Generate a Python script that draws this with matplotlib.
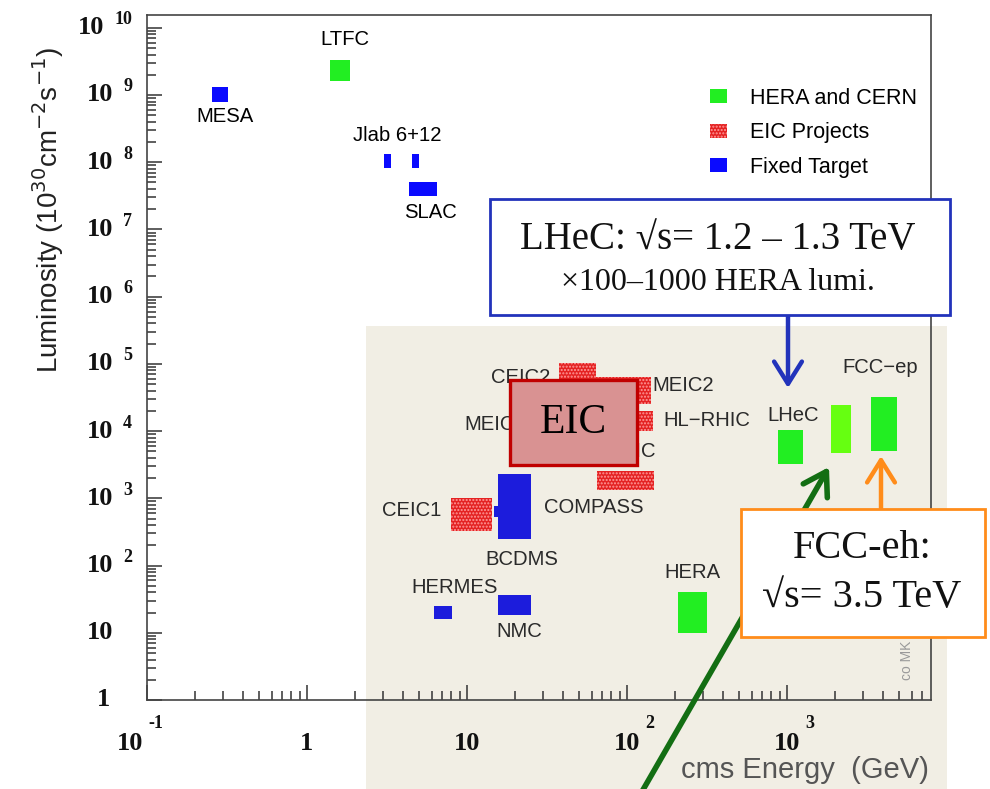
import matplotlib
matplotlib.use('Agg')
import matplotlib.pyplot as plt
from matplotlib.patches import Rectangle, Patch
from matplotlib.ticker import LogLocator, NullFormatter, FixedLocator
import matplotlib.transforms as mtrans

# ---------------- data ----------------
# HERA and CERN (green)
green_names = ['LTFC', 'HERA', 'LHeC', 'FCC-eh', 'FCC-ep']
green_E_lo = [1.39, 208, 879, 1884, 3350]
green_E_hi = [1.86, 316, 1259, 2512, 4870]
green_L_lo = [1.63e9, 9.9, 3.25e3, 4.74e3, 5.07e3]
green_L_hi = [3.34e9, 40.5, 1.04e4, 2.45e4, 3.23e4]
green_cols = ['#22ee22', '#22ee22', '#22ee22', '#66ff11', '#22ee22']

# EIC projects (red, dotted)
red_names = ['CEIC2', 'MEIC2', 'HL-RHIC', 'eRHIC', 'CEIC1']
red_E_lo = [37.6, 64.0, 80.0, 64.9, 7.94]
red_E_hi = [64.0, 141, 145, 147.5, 14.3]
red_L_lo = [5.0e4, 2.54e4, 1.0e4, 1.33e3, 327]
red_L_hi = [1.04e5, 6.4e4, 2.0e4, 2.56e3, 1.01e3]

# Fixed target (blue)
blue_names = ['MESA', 'Jlab 6', 'Jlab 12', 'SLAC', 'E665', 'BCDMS', 'HERMES', 'NMC']
blue_E_lo = [0.255, 3.03, 4.50, 4.34, 14.8, 15.6, 6.22, 15.6]
blue_E_hi = [0.32, 3.37, 5.01, 6.49, 15.6, 25.1, 8.06, 25.1]
blue_L_lo = [7.9e8, 8.25e7, 8.25e7, 3.16e7, 528, 249, 16.0, 18.4]
blue_L_hi = [1.3e9, 1.33e8, 1.33e8, 5.1e7, 771, 2.3e3, 25.0, 36.5]
blue_cols = ['#0a0aff', '#0a0aff', '#0a0aff', '#0a0aff', '#1c1cdc', '#1c1cdc', '#1c1cdc', '#1c1cdc']

# labels next to boxes
lab_text = ['MESA', 'LTFC', 'Jlab 6+12', 'SLAC', 'CEIC2', 'MEIC2', 'MEIC', 'HL\u2212RHIC',
            'eRHIC', 'COMPASS', 'CEIC1', 'BCDMS', 'HERMES', 'NMC', 'HERA', 'LHeC', 'FCC\u2212ep']
lab_E = [0.307, 1.73, 3.65, 5.87, 21.8, 224, 13.9, 316, 150, 62.2, 4.53, 22.1, 8.41, 21.1, 255, 1090, 3800]
lab_L = [4.74e8, 6.6e9, 2.47e8, 1.77e7, 6.19e4, 4.71e4, 1.24e4, 1.42e4, 4.9e3, 719, 649, 121,
         46.4, 10.3, 77.6, 1.68e4, 8.7e4]
lab_ha = ['center', 'center', 'center', 'center', 'center', 'center', 'center', 'center',
          'right', 'center', 'center', 'center', 'center', 'center', 'center', 'center', 'center']
lab_dark = [True, True, True, True, False, False, False, False, False, False, False, False,
            False, False, False, False, False]

y_exps = list(range(0, 11))
x_exps = [-1, 0, 1, 2, 3]

# ---------------- figure ----------------
W, H = 990, 789
fig = plt.figure(figsize=(W / 100, H / 100), dpi=100)
fig.patch.set_facecolor('white')

# beige inset background (figure level, behind the axes)
fig.patches.append(Rectangle((366 / W, 0), (947 - 366) / W, 1 - 326 / H,
                             transform=fig.transFigure, facecolor='#f1eee4',
                             edgecolor='none', zorder=-5))

ax = fig.add_axes([147 / W, 1 - 700 / H, (931 - 147) / W, (700 - 15) / H])
ax.set_facecolor('none')
ax.set_xscale('log')
ax.set_yscale('log')
ax.set_xlim(0.1, 10 ** 3.9)
ax.set_ylim(1, 10 ** 10.19)

for s in ax.spines.values():
    s.set_color('#444444')
    s.set_linewidth(1.2)

ax.xaxis.set_major_locator(FixedLocator([10.0 ** e for e in x_exps]))
ax.yaxis.set_major_locator(FixedLocator([10.0 ** e for e in y_exps]))
ax.xaxis.set_minor_locator(LogLocator(base=10, subs=range(2, 10), numticks=20))
ax.yaxis.set_minor_locator(LogLocator(base=10, subs=range(2, 10), numticks=20))
ax.xaxis.set_major_formatter(NullFormatter())
ax.yaxis.set_major_formatter(NullFormatter())
ax.xaxis.set_minor_formatter(NullFormatter())
ax.yaxis.set_minor_formatter(NullFormatter())
ax.tick_params(which='both', direction='in', top=False, right=False, color='#333333', width=1.1)
ax.tick_params(which='major', length=11)
ax.tick_params(which='minor', length=6.5)

# manual ROOT-style tick labels
tfont = dict(family='Liberation Serif', weight='bold', color='#111111')
ytr = ax.get_yaxis_transform()
for e in y_exps:
    yv = 10.0 ** e
    if e == 0:
        ax.text(0, yv, '1', transform=mtrans.offset_copy(ytr, fig=fig, x=-37, y=0, units='dots'),
                ha='right', va='center', fontsize=19, **tfont)
    elif e == 1:
        ax.text(0, yv, '10', transform=mtrans.offset_copy(ytr, fig=fig, x=-34, y=0, units='dots'),
                ha='right', va='center', fontsize=19, **tfont)
    else:
        bx = -34 if e < 10 else -43
        ax.text(0, yv, '10', transform=mtrans.offset_copy(ytr, fig=fig, x=bx, y=0, units='dots'),
                ha='right', va='center', fontsize=19, **tfont)
        ax.text(0, yv, str(e), transform=mtrans.offset_copy(ytr, fig=fig, x=-15, y=8, units='dots'),
                ha='right', va='center', fontsize=13, **tfont)

xtr = ax.get_xaxis_transform()
for e in x_exps:
    xv = 10.0 ** e
    if e == 0:
        ax.text(xv, 0, '1', transform=mtrans.offset_copy(xtr, fig=fig, x=-1, y=-43, units='dots'),
                ha='center', va='center', fontsize=19, **tfont)
    elif e == 1:
        ax.text(xv, 0, '10', transform=mtrans.offset_copy(xtr, fig=fig, x=0, y=-43, units='dots'),
                ha='center', va='center', fontsize=19, **tfont)
    else:
        bx = -17 if e < 0 else 0
        ax.text(xv, 0, '10', transform=mtrans.offset_copy(xtr, fig=fig, x=bx, y=-43, units='dots'),
                ha='center', va='center', fontsize=19, **tfont)
        ax.text(xv, 0, str(e), transform=mtrans.offset_copy(xtr, fig=fig, x=bx + 18, y=-24, units='dots'),
                ha='left', va='center', fontsize=13, **tfont)

# axis titles
fig.text(48 / W, 1 - 210 / H, r'Luminosity (10$^{30}$cm$^{-2}$s$^{-1}$)', rotation=90,
         ha='center', va='center', fontsize=20, family='Liberation Sans', color='#222222')
fig.text(929 / W, 1 - 770 / H, 'cms Energy  (GeV)', ha='right', va='center', fontsize=21,
         family='Liberation Sans', color='#555555')

# ---------------- boxes ----------------
for lo, hi, ylo, yhi, c in zip(green_E_lo, green_E_hi, green_L_lo, green_L_hi, green_cols):
    ax.add_patch(Rectangle((lo, ylo), hi - lo, yhi - ylo, facecolor=c, edgecolor='none', zorder=3))
for lo, hi, ylo, yhi in zip(red_E_lo, red_E_hi, red_L_lo, red_L_hi):
    ax.add_patch(Rectangle((lo, ylo), hi - lo, yhi - ylo, facecolor='#e42222', edgecolor='#ff9a9a',
                           hatch='.....', linewidth=0, zorder=3))
for lo, hi, ylo, yhi, c in zip(blue_E_lo, blue_E_hi, blue_L_lo, blue_L_hi, blue_cols):
    ax.add_patch(Rectangle((lo, ylo), hi - lo, yhi - ylo, facecolor=c, edgecolor='none', zorder=3))

for t, x, y, ha, dk in zip(lab_text, lab_E, lab_L, lab_ha, lab_dark):
    ax.text(x, y, t, ha=ha, va='center', fontsize=14.6, family='Liberation Sans',
            color='#000000' if dk else '#2a2a2a', zorder=4)

# EIC overlay box
ax.add_patch(Rectangle((18.6, 3.14e3), 115.5 - 18.6, 5.78e4 - 3.14e3, facecolor='#d99292',
                       edgecolor='#c00000', linewidth=2.4, zorder=6))
ax.text(10 ** ((573 - 307) / 160), 10 ** ((700 - 423) / 67.2), 'EIC', ha='center', va='center',
        fontsize=30, family='Liberation Serif', color='#000000', zorder=7)

ax.text(10 ** ((907 - 307) / 160), 10 ** ((700 - 680) / 67.2), 'co MK', rotation=90, ha='center',
        va='bottom', fontsize=10, family='Liberation Sans', color='#9a9a9a', zorder=4)

# legend
handles = [Patch(facecolor='#22ee22', edgecolor='none'),
           Patch(facecolor='#e42222', edgecolor='#ff9a9a', hatch='.....', linewidth=0),
           Patch(facecolor='#0a0aff', edgecolor='none')]
leg = ax.legend(handles, ['HERA and CERN', 'EIC Projects', 'Fixed Target'],
                loc='upper left', bbox_to_anchor=((710 - 147) / 784, (700 - 88) / 685),
                frameon=False, prop=dict(family='Liberation Sans', size=15.5),
                handlelength=0.8, handleheight=0.62, handletextpad=1.05, labelspacing=0.62,
                borderaxespad=0, borderpad=0)

# ---------------- annotation boxes & arrows ----------------
fig.patches.append(Rectangle((490 / W, 1 - 315 / H), 460 / W, 116 / H, transform=fig.transFigure,
                             facecolor='white', edgecolor='#2233bb', linewidth=2, zorder=10))
fig.text(718 / W, 1 - 240 / H, 'LHeC: \u221as= 1.2 \u2013 1.3 TeV', ha='center', va='center',
         fontsize=28, family='Liberation Serif', color='#111111', zorder=11)
fig.text(718 / W, 1 - 283 / H, '\u00d7100\u20131000 HERA lumi.', ha='center', va='center',
         fontsize=23, family='Liberation Serif', color='#111111', zorder=11)

fig.patches.append(Rectangle((741 / W, 1 - 637 / H), 244 / W, 128 / H, transform=fig.transFigure,
                             facecolor='white', edgecolor='#ff8c1a', linewidth=2, zorder=10))
fig.text(862 / W, 1 - 549 / H, 'FCC-eh:', ha='center', va='center',
         fontsize=29, family='Liberation Serif', color='#111111', zorder=11)
fig.text(862 / W, 1 - 598 / H, '\u221as= 3.5 TeV', ha='center', va='center',
         fontsize=29, family='Liberation Serif', color='#111111', zorder=11)

# arrows
ax.annotate('', xy=(788, H - 388), xycoords='figure pixels', xytext=(788, H - 316),
            textcoords='figure pixels',
            arrowprops=dict(arrowstyle='->,head_length=0.8,head_width=0.5', color='#2233bb',
                            lw=3.2, mutation_scale=20, shrinkA=0, shrinkB=0), zorder=9,
            annotation_clip=False)
ax.annotate('', xy=(881, H - 456), xycoords='figure pixels', xytext=(881, H - 508),
            textcoords='figure pixels',
            arrowprops=dict(arrowstyle='->,head_length=0.8,head_width=0.5', color='#ff8c1a',
                            lw=3.2, mutation_scale=20, shrinkA=0, shrinkB=0), zorder=9,
            annotation_clip=False)
ax.annotate('', xy=(829, H - 467), xycoords='figure pixels', xytext=(640, H - 795),
            textcoords='figure pixels',
            arrowprops=dict(arrowstyle='->,head_length=0.8,head_width=0.5', color='#136e13',
                            lw=4, mutation_scale=20, shrinkA=0, shrinkB=0), zorder=9,
            annotation_clip=False)

fig.savefig('out.png', dpi=100)
